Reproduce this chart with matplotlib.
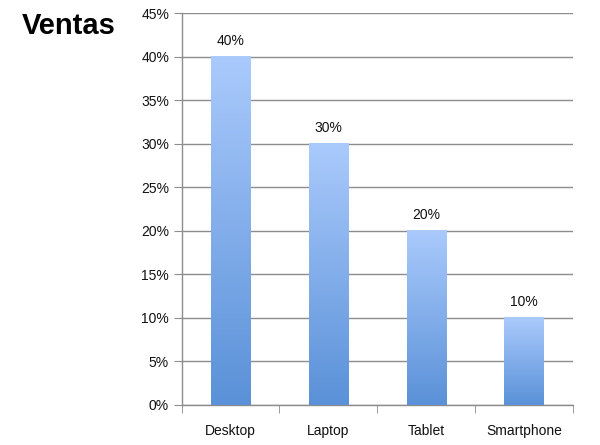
import numpy as np
import matplotlib
matplotlib.use("Agg")
import matplotlib.pyplot as plt
from matplotlib.colors import LinearSegmentedColormap
from matplotlib.ticker import MultipleLocator, FuncFormatter

categories = ["Desktop", "Laptop", "Tablet", "Smartphone"]
ventas = [40, 30, 20, 10]
value_labels = ["40%", "30%", "20%", "10%"]

fig = plt.figure(figsize=(6.0, 4.45), dpi=100)
ax = fig.add_axes([0.3025, 0.0899, 0.6525, 0.8798])

x = np.arange(len(categories))
bars = ax.bar(x, ventas, width=0.40, color="none", zorder=3)

# vertical blue gradient inside each bar (light at top, darker at bottom)
cmap = LinearSegmentedColormap.from_list("blues", ["#5a91d8", "#aacafc"])
grad = np.linspace(0, 1, 256).reshape(-1, 1)
for b in bars:
    x0, y0 = b.get_x(), b.get_y()
    w, h = b.get_width(), b.get_height()
    ax.imshow(grad, cmap=cmap, origin="lower", aspect="auto",
              extent=(x0, x0 + w, y0, y0 + h), zorder=3)

for xi, v, lab in zip(x, ventas, value_labels):
    ax.text(xi, v + 1.0, lab, ha="center", va="bottom", fontsize=10,
            family="Liberation Sans", color="#111111", zorder=4)

ax.set_xlim(-0.5, len(categories) - 0.5)
ax.set_ylim(0, 45)
ax.yaxis.set_major_locator(MultipleLocator(5))
ax.yaxis.set_major_formatter(FuncFormatter(lambda v, p: f"{v:.0f}%"))
ax.set_xticks(x)
ax.set_xticklabels(categories)
ax.set_xticks(np.arange(-0.5, len(categories), 1.0), minor=True)

ax.grid(axis="y", color="#8c8c8c", linewidth=1.0, zorder=0)
ax.set_axisbelow(True)
for s in ["top", "right"]:
    ax.spines[s].set_visible(False)
for s in ["left", "bottom"]:
    ax.spines[s].set_color("#8c8c8c")
    ax.spines[s].set_linewidth(1.0)

ax.tick_params(axis="y", length=6, color="#8c8c8c", labelsize=10, pad=3)
ax.tick_params(axis="x", which="major", length=0, labelsize=10, pad=14)
ax.tick_params(axis="x", which="minor", length=6, color="#8c8c8c")
for lab in ax.get_xticklabels() + ax.get_yticklabels():
    lab.set_family("Liberation Sans")
    lab.set_color("#111111")

fig.text(0.037, 0.942, "Ventas", fontsize=21, fontweight="bold",
         family="Liberation Sans", ha="left", va="center", color="black")

fig.savefig("out.png", dpi=100)
